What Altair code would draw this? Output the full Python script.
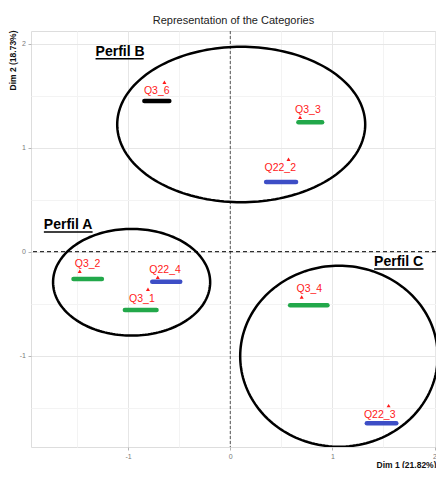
import altair as alt
import numpy as np
import pandas as pd

# ---- category points (Dim 1, Dim 2) ----
labels = ["Q3_6", "Q3_3", "Q22_2", "Q3_2", "Q22_4", "Q3_1", "Q3_4", "Q22_3"]
dim1 = [-0.645, 0.683, 0.570, -1.474, -0.710, -0.806, 0.699, 1.550]
dim2 = [1.630, 1.292, 0.888, -0.188, -0.246, -0.362, -0.436, -1.480]
label_x = [-0.72, 0.76, 0.489, -1.397, -0.638, -0.865, 0.774, 1.463]
label_y = [1.545, 1.363, 0.802, -0.121, -0.176, -0.455, -0.362, -1.570]

# ---- coloured highlight bars under the labels ----
bar_x1 = [-0.841, 0.667, 0.351, -1.535, -0.764, -1.032, 0.586, 1.337]
bar_x2 = [-0.597, 0.899, 0.644, -1.257, -0.490, -0.722, 0.951, 1.625]
bar_y = [1.449, 1.244, 0.670, -0.2625, -0.288, -0.561, -0.515, -1.650]
bar_group = ["black", "green", "blue", "green", "blue", "green", "green", "blue"]
group_names = ["black", "green", "blue"]
group_colors = ["#000000", "#22a84a", "#3d4ec6"]

# ---- profiles (ellipses + underlined names) ----
profile_names = ["Perfil A", "Perfil B", "Perfil C"]
ell_cx = [-0.966, 0.107, 1.064]
ell_cy = [-0.294, 1.223, -1.005]
ell_rx = [0.769, 1.214, 0.967]
ell_ry = [0.513, 0.747, 0.870]
name_x1 = [-1.825, -1.319, 1.408]
name_x2 = [-1.348, -0.848, 1.892]
name_y = [0.215, 1.882, -0.140]
underline_y = [0.189, 1.855, -0.166]

x_domain = [-1.951, 2.014]
y_domain = [-1.878, 2.122]
grid_values = [-1.5, -1, -0.5, 0, 0.5, 1, 1.5, 2]

FONT = "Liberation Sans"

pts = pd.DataFrame({"label": labels, "dim1": dim1, "dim2": dim2,
                    "lx": label_x, "ly": label_y})
bars = pd.DataFrame({"x1": bar_x1, "x2": bar_x2, "y": bar_y, "g": bar_group})
prof = pd.DataFrame({"name": profile_names, "x1": name_x1, "x2": name_x2,
                     "ny": name_y, "uy": underline_y})

rows = []
t = np.linspace(0, 2 * np.pi, 181)
for n, cx, cy, rx, ry in zip(profile_names, ell_cx, ell_cy, ell_rx, ell_ry):
    for i, a in enumerate(t):
        rows.append({"name": n, "i": i, "x": cx + rx * np.cos(a), "y": cy + ry * np.sin(a)})
ell = pd.DataFrame(rows)

xs = alt.Scale(domain=x_domain, nice=False, zero=False)
ys = alt.Scale(domain=y_domain, nice=False, zero=False)

major_test = "abs(datum.value - round(datum.value)) < 0.001"
common_axis = dict(
    values=grid_values,
    labelExpr="abs(datum.value - round(datum.value)) < 0.001 ? ('' + round(datum.value)) : ''",
    titleFont=FONT, titleFontSize=8.5, titleFontWeight="bold", titleColor="#111111",
    titleAlign="right", titleBaseline="alphabetic",
    labelFont=FONT, labelFontSize=7, labelColor="#7a7a7a",
    tickSize=3, tickColor="#b5b5b5",
    tickOpacity={"condition": {"test": major_test, "value": 1}, "value": 0},
    gridColor={"condition": {"test": major_test, "value": "#e6e6e6"}, "value": "#f3f3f3"},
    domain=False,
)
x_axis = alt.Axis(title="Dim 1 (21.82%)", titleX=405, titleY=20, labelPadding=2,
                  labelFlush=True, **common_axis)
y_axis = alt.Axis(title="Dim 2 (18.73%)", titleAngle=270, titleX=-15.5, titleY=-1,
                  labelPadding=2.5, **common_axis)


def X(field):
    return alt.X(field, scale=xs, axis=x_axis)


def Y(field):
    return alt.Y(field, scale=ys, axis=y_axis)


base = alt.Chart(pts)

vline = alt.Chart(pd.DataFrame({"v": [0]})).mark_rule(
    color="#555555", strokeDash=[3, 2], strokeWidth=1
).encode(x=X("v:Q"))

hline = alt.Chart(pd.DataFrame({"v": [0]})).mark_rule(
    color="#000000", strokeDash=[4, 3], strokeWidth=1
).encode(y=Y("v:Q"))

bar_layer = alt.Chart(bars).mark_rule(strokeWidth=4.5, strokeCap="round").encode(
    x=X("x1:Q"), x2="x2:Q", y=Y("y:Q"),
    color=alt.Color("g:N", scale=alt.Scale(domain=group_names, range=group_colors), legend=None),
)

ell_layer = alt.Chart(ell).mark_line(color="#000000", strokeWidth=2.5, clip=True).encode(
    x=X("x:Q"), y=Y("y:Q"), detail="name:N", order="i:Q",
)

tri_layer = base.mark_point(shape="triangle-up", filled=True, color="#ff1a1a", size=16, opacity=1).encode(
    x=X("dim1:Q"), y=Y("dim2:Q"),
)

lab_layer = base.mark_text(color="#ff2020", font=FONT, fontSize=10.5, align="center", baseline="middle").encode(
    x=X("lx:Q"), y=Y("ly:Q"), text="label:N",
)

name_layer = alt.Chart(prof).mark_text(
    font=FONT, fontSize=14, fontWeight="bold", color="#000000", align="left", baseline="alphabetic"
).encode(x=X("x1:Q"), y=Y("ny:Q"), text="name:N")

under_layer = alt.Chart(prof).mark_rule(color="#000000", strokeWidth=1.6).encode(
    x=X("x1:Q"), x2="x2:Q", y=Y("uy:Q"),
)

chart = alt.layer(
    vline, hline, ell_layer, bar_layer, tri_layer, lab_layer, name_layer, under_layer
).properties(
    width=405, height=416,
    title=alt.TitleParams("Representation of the Categories", font=FONT, fontSize=11,
                          fontWeight="normal", color="#222222", anchor="middle",
                          baseline="alphabetic", offset=9, dy=14, frame="group"),
    autosize=alt.AutoSizeParams(type="none"),
    padding={"left": 23, "top": 23, "right": 0, "bottom": 21},
).configure_view(stroke="#d6d6d6", strokeWidth=1).configure(background="white")

chart.save("out.html", embed_options={"renderer": "svg", "actions": False})
